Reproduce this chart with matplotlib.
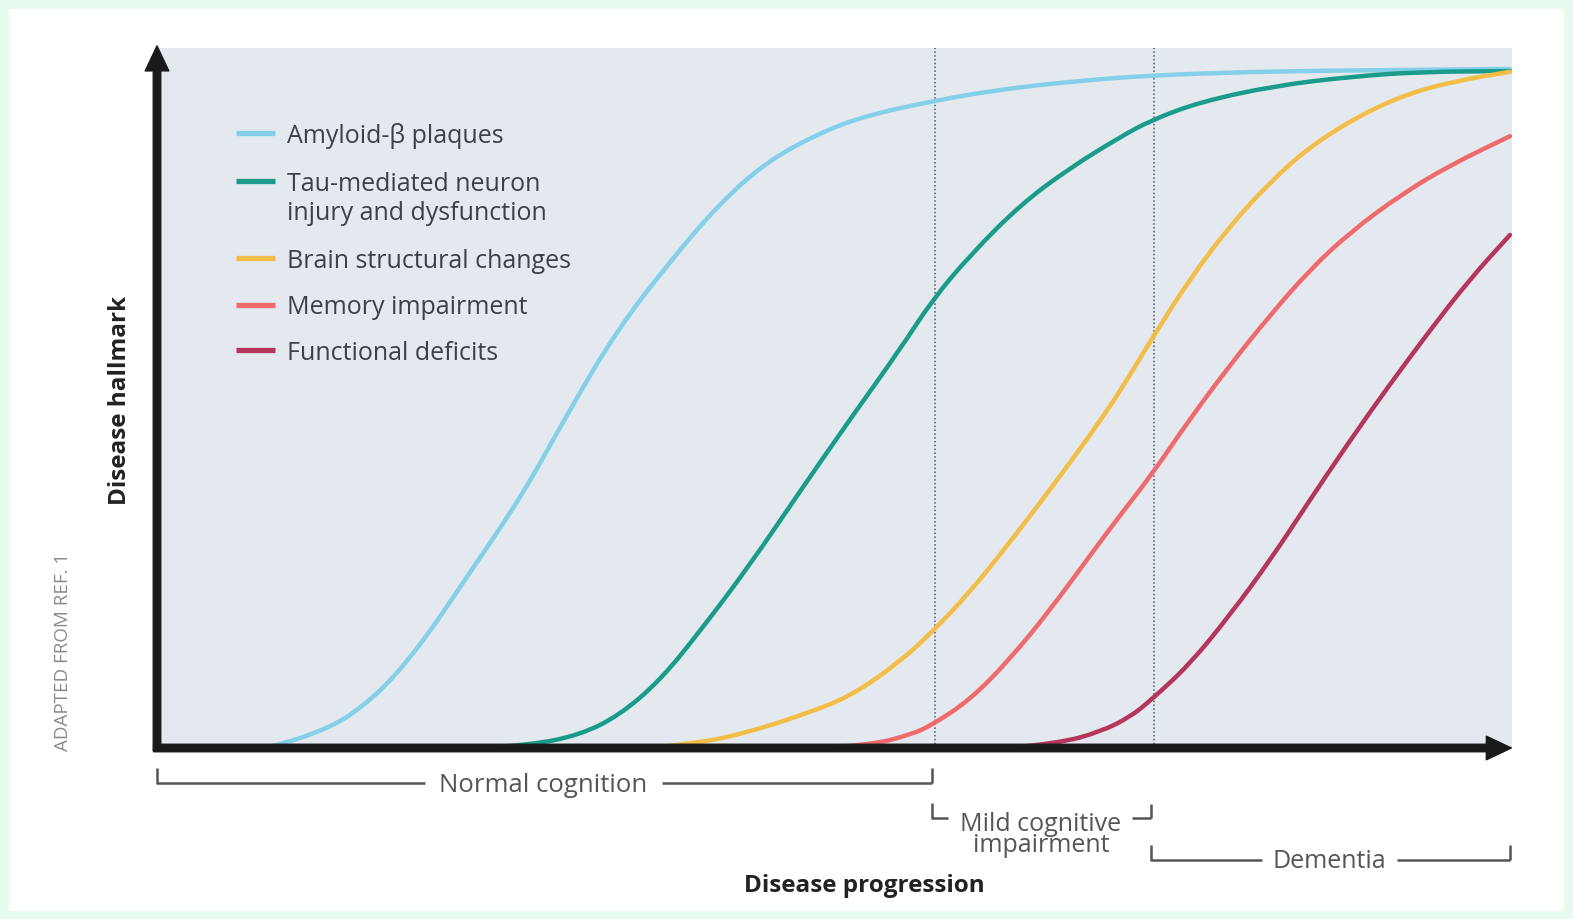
import matplotlib
matplotlib.use("Agg")
import matplotlib.pyplot as plt
from matplotlib.lines import Line2D
from matplotlib.patches import Rectangle, FancyArrowPatch, PathPatch
from matplotlib.path import Path

W, H = 1573, 919

# disease progression (0-100) vs hallmark level (0-100)
amyloid_x = [8, 12, 16, 19.5, 23, 27, 30.5, 34, 38, 41.5, 45, 49, 52.5, 57.3, 62, 68, 73.5, 81, 88, 100]
amyloid_y = [0, 1.9, 6.9, 14.7, 24.7, 36.1, 48.3, 59.7, 69.7, 77.6, 83.7, 87.9, 90.4, 92.4, 94.0, 95.3, 96.1, 96.6, 96.8, 97]

tau_x = [23.9, 27.6, 31.3, 34.2, 37.2, 40.1, 43.8, 47.5, 51.2, 54.9, 57.3, 60.1, 63.8, 67.5, 71.2, 73.5, 77.1, 82.6, 88.2, 93.3, 100]
tau_y = [0, 0.4, 1.9, 4.7, 9.7, 16.6, 26.1, 36.6, 46.9, 56.9, 64.0, 70.4, 77.6, 82.9, 87.3, 89.7, 92.3, 94.6, 95.9, 96.6, 96.7]

brain_x = [36.4, 40.1, 43.8, 47.5, 51.2, 54.9, 57.3, 60.1, 63.0, 66.0, 69.0, 71.2, 73.5, 76.3, 79.3, 82.3, 85.2, 88.9, 92.6, 96.3, 100]
brain_y = [0, 0.7, 2.3, 4.6, 7.3, 12.3, 16.6, 22.3, 29.3, 36.9, 44.8, 51.0, 58.4, 66.9, 74.6, 80.9, 85.9, 90.4, 93.6, 95.4, 96.6]

memory_x = [49.0, 52.7, 55.7, 57.3, 60.1, 63.0, 66.0, 69.0, 71.2, 73.5, 76.3, 79.3, 82.3, 85.2, 88.2, 91.9, 95.6, 100]
memory_y = [0, 0.4, 1.9, 3.3, 6.9, 12.6, 19.7, 27.6, 33.3, 39.0, 46.9, 54.7, 61.9, 68.3, 73.7, 79.0, 83.3, 87.4]

func_x = [63.0, 66.7, 69.7, 71.9, 73.5, 76.3, 79.3, 82.3, 85.2, 88.2, 91.1, 94.1, 97.0, 100]
func_y = [0, 0.7, 2.3, 4.4, 6.9, 11.9, 19.0, 26.9, 35.4, 44.0, 51.9, 59.7, 66.9, 73.3]

labels = ["Amyloid-\u03b2 plaques", "Tau-mediated neuron\ninjury and dysfunction",
          "Brain structural changes", "Memory impairment", "Functional deficits"]
colors = ["#86cfe9", "#1b9c8a", "#f2be48", "#ee6a6d", "#b5355b"]
stage_bounds = [57.5, 73.7]  # MCI start, dementia start

plt.rcParams['font.family'] = ['Open Sans', 'DejaVu Sans']


def fx(x):
    return x / W


def fy(y):
    return 1 - y / H


def smooth(xs, ys):
    # quadratic bezier through midpoints, so the hand-read points draw as a smooth curve
    verts = [(xs[0], ys[0])]
    codes = [Path.MOVETO]
    for i in range(1, len(xs) - 1):
        verts += [(xs[i], ys[i]), ((xs[i] + xs[i + 1]) / 2, (ys[i] + ys[i + 1]) / 2)]
        codes += [Path.CURVE3, Path.CURVE3]
    verts.append((xs[-1], ys[-1]))
    codes.append(Path.LINETO)
    return Path(verts, codes)


fig = plt.figure(figsize=(W / 100, H / 100), dpi=100, facecolor="#e6fbee")
fig.add_artist(Rectangle((fx(9), fy(911)), fx(1555), (911 - 9) / H, transform=fig.transFigure,
                         facecolor="white", edgecolor="none", zorder=0))

x0, x1, ytop, ybot = 157, 1512, 48, 748
ax = fig.add_axes([fx(x0), fy(ybot), (x1 - x0) / W, (ybot - ytop) / H])
ax.set_facecolor("#e3e9ef")
ax.set_xlim(0, (x1 - x0) / 13.53)
ax.set_ylim(0, 100)
for s in ax.spines.values():
    s.set_visible(False)
ax.set_xticks([])
ax.set_yticks([])

for b in stage_bounds:
    ax.axvline(b, color="#4c5866", lw=1.1, ls=(0, (1, 1.5)), zorder=1)

series = [(amyloid_x, amyloid_y), (tau_x, tau_y), (brain_x, brain_y), (memory_x, memory_y), (func_x, func_y)]
for (xs, ys), c in zip(series, colors):
    ax.add_patch(PathPatch(smooth(xs, ys), fill=False, edgecolor=c, lw=3.2,
                           capstyle="round", joinstyle="round", zorder=3))

# axis arrows
arr = dict(arrowstyle="simple,head_length=0.9,head_width=0.85,tail_width=0.27",
           mutation_scale=20, color="#1a1a1a", clip_on=False, zorder=5, shrinkA=0, shrinkB=0)
ax.add_patch(FancyArrowPatch((0, -0.4), (0, 100.3), **arr))
ax.add_patch(FancyArrowPatch((-0.25, 0), (100.1, 0), **arr))

# legend, drawn by hand so the two-line label keeps its handle on the first line
rows = [133, 181, 258, 305, 350]
for lab, c, y in zip(labels, colors, rows):
    fig.add_artist(Line2D([fx(236), fx(275)], [fy(y), fy(y)], transform=fig.transFigure,
                          color=c, lw=3.8, solid_capstyle="butt"))
    n = lab.count("\n")
    fig.text(fx(287), fy(y + 3 + 15 * n), lab, fontsize=18, color="#3d4147", va="center", ha="left",
             linespacing=1.17)

fig.text(fx(120), fy(400), "Disease hallmark", rotation=90, fontsize=17.5, fontweight="bold",
         color="#222222", ha="center", va="center")
fig.text(fx(63), fy(652), "ADAPTED FROM REF. 1", rotation=90, fontsize=13.5, color="#8a8a8a",
         ha="center", va="center")
fig.text(fx(864), fy(886), "Disease progression", fontsize=17.5, fontweight="bold",
         color="#222222", ha="center", va="center")


def seg(xa, ya, xb, yb):
    fig.add_artist(Line2D([fx(xa), fx(xb)], [fy(ya), fy(yb)], transform=fig.transFigure,
                          color="#555555", lw=1.8, solid_capstyle="butt"))


# Normal cognition bracket
seg(157, 768, 157, 784); seg(157, 783, 425, 783)
seg(662, 783, 932, 783); seg(932, 783, 932, 768)
fig.text(fx(543), fy(785), "Normal cognition", fontsize=18.5, color="#555555", ha="center", va="center")
# Mild cognitive impairment bracket
seg(932, 803, 932, 819); seg(932, 818, 948, 818)
seg(1132, 818, 1151, 818); seg(1151, 818, 1151, 804)
fig.text(fx(1041), fy(835), "Mild cognitive\nimpairment", fontsize=18, color="#555555",
         ha="center", va="center", linespacing=0.8)
# Dementia bracket
seg(1151, 845, 1151, 861); seg(1151, 860, 1262, 860)
seg(1397, 860, 1510, 860); seg(1510, 860, 1510, 845)
fig.text(fx(1329), fy(862), "Dementia", fontsize=18, color="#555555", ha="center", va="center")

fig.savefig("out.png", dpi=100, facecolor=fig.get_facecolor())
